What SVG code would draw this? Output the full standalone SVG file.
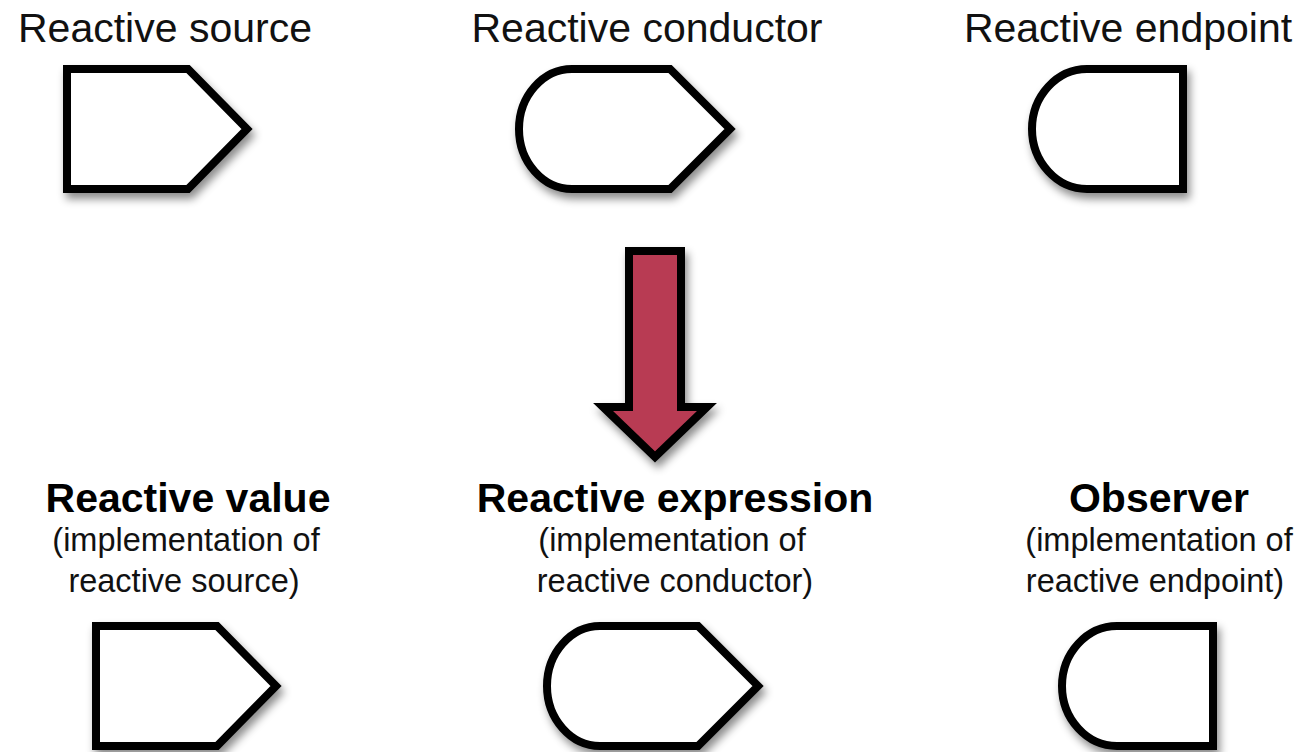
<svg xmlns="http://www.w3.org/2000/svg" width="1305" height="752" viewBox="0 0 1305 752">
  <defs>
    <filter id="shadow" x="-20%" y="-20%" width="150%" height="160%">
      <feDropShadow dx="3" dy="6" stdDeviation="4" flood-color="#000" flood-opacity="0.45"/>
    </filter>
    <path id="srcShape" d="M67,69 L188,69 L247,129 L188,189 L67,189 Z"/>
    <path id="condShape" d="M572,69 L670,69 L730,129 L670,189 L572,189 C543,189 519,162 519,129 C519,96 543,69 572,69 Z"/>
    <path id="endShape" d="M1087,69 L1183,69 L1183,189 L1087,189 C1057,189 1032,162 1032,129 C1032,96 1057,69 1087,69 Z"/>
  </defs>
  <style>
    .shape { fill: #fff; stroke: #000; stroke-width: 8; stroke-linejoin: miter; filter: url(#shadow); }
    .arrow { fill: #B83A53; stroke: #000; stroke-width: 8; stroke-linejoin: miter; filter: url(#shadow); }
    .title { font-family: "Liberation Sans", Arial, sans-serif; font-size: 41px; fill: #111; text-anchor: middle; }
    .bold { font-family: "Liberation Sans", Arial, sans-serif; font-size: 41px; font-weight: bold; fill: #000; text-anchor: middle; }
    .sub { font-family: "Liberation Sans", Arial, sans-serif; font-size: 32.5px; fill: #111; text-anchor: middle; }
  </style>
  <rect width="1305" height="752" fill="#fff"/>

  <g id="reactive-source">
    <text class="title" x="165" y="42">Reactive source</text>
    <use href="#srcShape" class="shape"/>
  </g>
  <g id="reactive-conductor">
    <text class="title" x="647" y="42">Reactive conductor</text>
    <use href="#condShape" class="shape"/>
  </g>
  <g id="reactive-endpoint">
    <text class="title" x="1128" y="42">Reactive endpoint</text>
    <use href="#endShape" class="shape"/>
  </g>

  <g id="connectors">
    <path class="arrow" d="M629,251 L681,251 L681,407 L707,407 L655,457 L603,407 L629,407 Z"/>
  </g>

  <g id="reactive-value">
    <text class="bold" x="188" y="512">Reactive value</text>
    <text class="sub" x="186" y="551">(implementation of</text>
    <text class="sub" x="184" y="592">reactive source)</text>
    <use href="#srcShape" class="shape" transform="translate(29,557)"/>
  </g>
  <g id="reactive-expression">
    <text class="bold" x="675" y="512">Reactive expression</text>
    <text class="sub" x="672" y="551">(implementation of</text>
    <text class="sub" x="675" y="592">reactive conductor)</text>
    <use href="#condShape" class="shape" transform="translate(28,557)"/>
  </g>
  <g id="observer">
    <text class="bold" x="1159" y="512">Observer</text>
    <text class="sub" x="1159" y="551">(implementation of</text>
    <text class="sub" x="1155" y="592">reactive endpoint)</text>
    <use href="#endShape" class="shape" transform="translate(30,557)"/>
  </g>
</svg>
